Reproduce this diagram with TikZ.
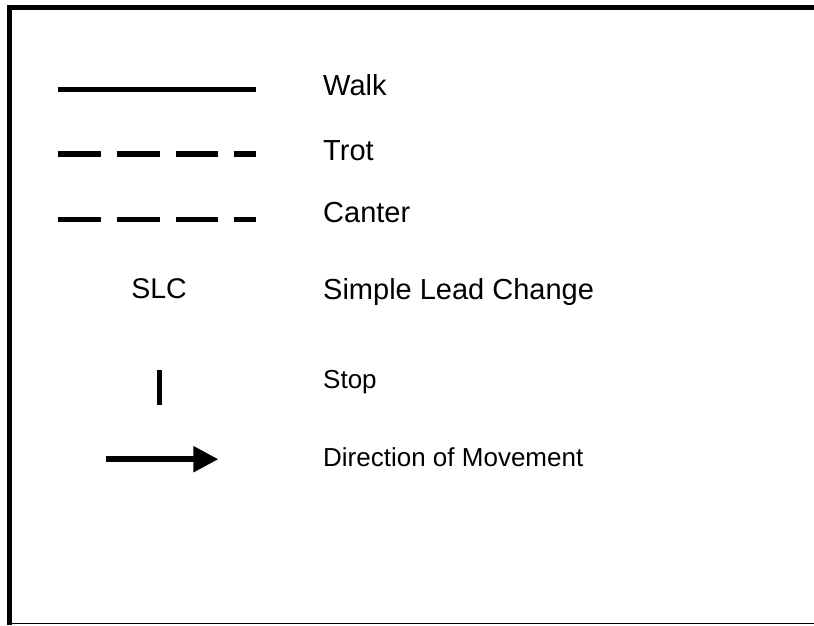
\documentclass[tikz,border=0pt]{standalone}
\usepackage{fontspec}
\setmainfont{Liberation Sans}
\usetikzlibrary{arrows.meta}
\begin{document}
\begin{tikzpicture}[x=1pt,y=-1pt,
  legline/.style={line width=5.5pt, line cap=butt},
  dashline/.style={legline, dash pattern=on 42.7pt off 16pt},
  bigtext/.style={anchor=base west, inner sep=0pt, font=\fontsize{29}{34}\selectfont},
  smalltext/.style={anchor=base west, inner sep=0pt, font=\fontsize{26}{31}\selectfont}]
\useasboundingbox (0,0) rectangle (814,625);
% frame
\draw[line width=5pt] (7,7.5) -- (814,7.5);
\draw[line width=5pt] (9.5,5) -- (9.5,625);
\draw[line width=1.5pt] (12,623.3) -- (814,623.3);
% symbols
\coordinate (w1) at (58.3,89.5); \coordinate (w2) at (256,89.5);
\draw[legline] (w1) -- (w2);
\coordinate (t1) at (58.3,154); \coordinate (t2) at (256,154);
\draw[dashline] (t1) -- (t2);
\coordinate (c1) at (58.3,219.3); \coordinate (c2) at (256,219.3);
\draw[dashline] (c1) -- (c2);
\node[anchor=base, inner sep=0pt, font=\fontsize{28.5}{34}\selectfont] (slc) at (159,298) {SLC};
\coordinate (s1) at (159.8,370); \coordinate (s2) at (159.8,405);
\draw[line width=5pt, line cap=butt] (s1) -- (s2);
\coordinate (a1) at (105.7,459.2); \coordinate (a2) at (218.3,459.2);
\draw[line width=5.5pt, -{Triangle[length=25pt,width=25pt]}, shorten >=0pt] (a1) -- (a2);
% labels
\node[bigtext] (walk) at (323,95.5) {Walk};
\node[bigtext] (trot) at (323,160) {Trot};
\node[bigtext] (canter) at (323,222.7) {Canter};
\node[bigtext] (lead) at (323,299) {Simple Lead Change};
\node[smalltext] (stop) at (323,388.3) {Stop};
\node[smalltext] (dir) at (323,466) {Direction of Movement};
\end{tikzpicture}
\end{document}
